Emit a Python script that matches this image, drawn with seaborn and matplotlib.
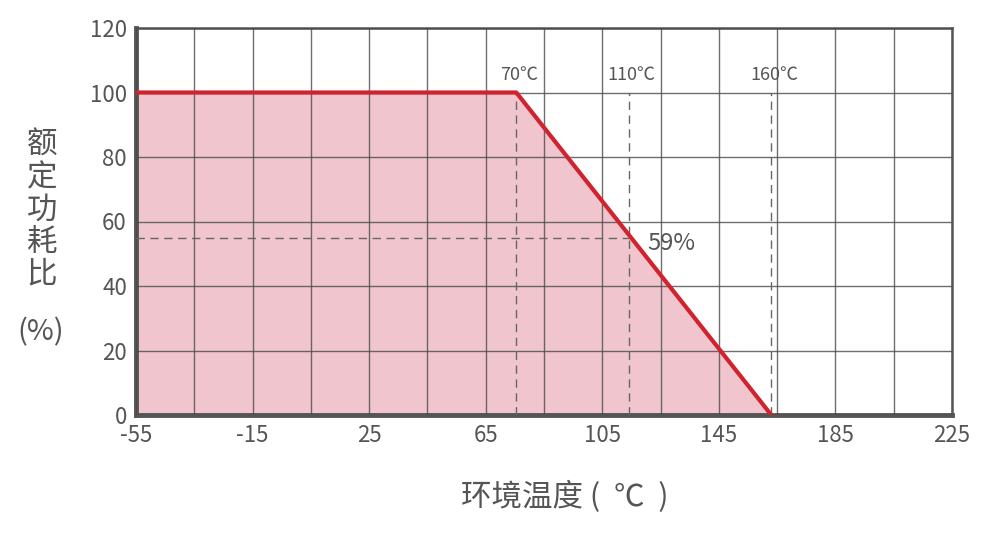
import numpy as np
import pandas as pd
import seaborn as sns
import matplotlib.pyplot as plt
from matplotlib.ticker import FixedLocator

# derating curve
temp = [-55, 75.5, 163]
power = [100, 100, 0]

# marked temperatures (dashed guides) and their labels
mark_temp = [75.5, 114, 163]
mark_label = ['70℃', '110℃', '160℃']
derate_y = 55
derate_label = '59%'

x_ticks = [-55, -15, 25, 65, 105, 145, 185, 225]
x_grid = [-55, -35, -15, 5, 25, 45, 65, 85, 105, 125, 145, 165, 185, 205, 225]
y_ticks = [0, 20, 40, 60, 80, 100, 120]

sns.set_style('white')
plt.rcParams['font.family'] = ['Noto Sans CJK SC', 'DejaVu Sans']
plt.rcParams['axes.unicode_minus'] = False

text_c = '#555555'
red = '#d1232d'

fig = plt.figure(figsize=(9.89, 5.36), dpi=100)
ax = fig.add_axes([136 / 989, (536 - 415) / 536, (952 - 136) / 989, (415 - 28) / 536])

df = pd.DataFrame({'temp': temp, 'power': power})
ax.fill_between(df['temp'], df['power'], 0, color='#f0c5ce', zorder=1, linewidth=0)
sns.lineplot(data=df, x='temp', y='power', color=red, linewidth=3, ax=ax, zorder=4)

# dashed guide lines
for t, lab in zip(mark_temp, mark_label):
    ax.plot([t, t], [0, 100], ls=(0, (6, 4)), color='#666666', lw=1, zorder=3)
    ax.text(t + 1, 105.5, lab, ha='center', va='center', fontsize=13, color=text_c)
ax.plot([-55, mark_temp[1]], [derate_y, derate_y], ls=(0, (6, 4)), color='#666666', lw=1, zorder=3)
ax.text(120.5, 53.3, derate_label, ha='left', va='center', fontsize=17, color=text_c)

ax.set_xlim(-55, 225)
ax.set_ylim(0, 120)
ax.set_xticks(x_ticks)
ax.xaxis.set_minor_locator(FixedLocator(x_grid))
ax.set_yticks(y_ticks)
ax.grid(which='both', color='#4a4a4a', lw=1, alpha=0.8, zorder=2)
ax.set_axisbelow(False)
ax.tick_params(axis='both', labelsize=16, colors=text_c, length=3, width=1.5)
ax.tick_params(axis='x', which='minor', length=0)
ax.set_xlabel('')
ax.set_ylabel('')

for side in ['left', 'bottom']:
    ax.spines[side].set_linewidth(3.5)
    ax.spines[side].set_color('#555555')
for side in ['top', 'right']:
    ax.spines[side].set_linewidth(1.8)
    ax.spines[side].set_color('#555555')

fig.text(565 / 989, 1 - 497 / 536, '环境温度 (  ℃  )', ha='center', va='center', fontsize=22, color=text_c)
fig.text(42 / 989, 1 - 210 / 536, '额\n定\n功\n耗\n比', ha='center', va='center', fontsize=22,
         color=text_c, linespacing=1.05)
fig.text(41 / 989, 1 - 332 / 536, '(%)', ha='center', va='center', fontsize=21, color=text_c)

fig.savefig('out.png', dpi=100)
